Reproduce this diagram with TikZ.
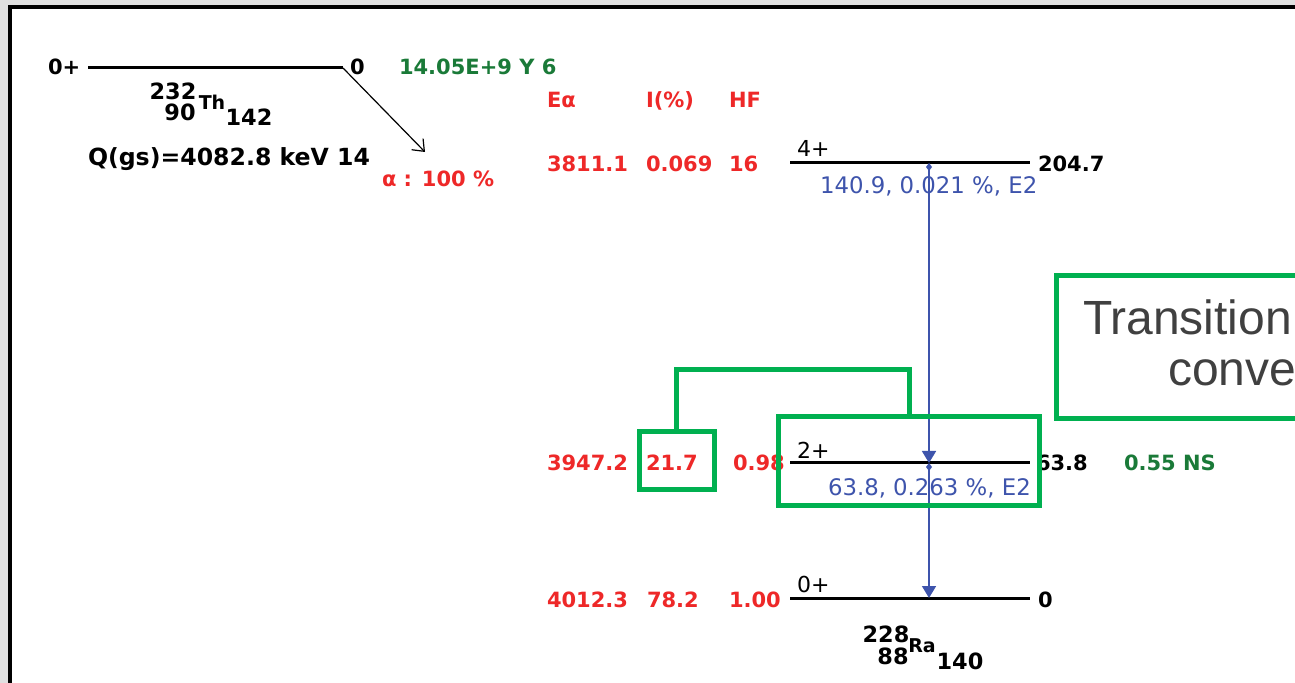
\documentclass[tikz,border=0pt]{standalone}
\usepackage{fontspec}
\setmainfont{DejaVu Sans}
\newfontfamily\calloutfont{Liberation Sans}
\usetikzlibrary{arrows.meta}

\definecolor{pagegray}{RGB}{224,224,224}
\definecolor{ered}{RGB}{238,40,40}
\definecolor{tgreen}{RGB}{26,122,56}
\definecolor{gblue}{RGB}{62,84,172}
\definecolor{hlgreen}{RGB}{0,176,80}
\definecolor{calltext}{RGB}{64,64,64}

\tikzset{
  every node/.style={inner sep=0pt, outer sep=0pt},
  boldtxt/.style={font=\fontsize{10.5}{12}\selectfont\bfseries},
  redtxt/.style={boldtxt, text=ered, anchor=base west},
  blktxt/.style={boldtxt, text=black, anchor=base west},
  grntxt/.style={boldtxt, text=tgreen, anchor=base west},
  spintxt/.style={font=\fontsize{11}{13}\selectfont, text=black, anchor=base west},
  gtxt/.style={font=\fontsize{11.4}{13}\selectfont, text=gblue, anchor=base west},
  nucnum/.style={font=\fontsize{11.2}{13}\selectfont\bfseries, text=black},
  nucsym/.style={font=\fontsize{9.5}{11}\selectfont\bfseries, text=black},
  level/.style={line width=1.5pt, black},
  gtrans/.style={draw=gblue, line width=0.75pt,
    {Diamond[length=4pt,width=3pt]}-{Triangle[length=6pt,width=7pt]}},
  decay/.style={draw=black, line width=0.6pt, -{Straight Barb[length=5pt,width=8pt]}},
  hlbox/.style={draw=hlgreen, line width=2.5pt, rectangle},
  hlline/.style={draw=hlgreen, line width=2.5pt},
  callout/.style={font=\calloutfont\fontsize{24}{28}\selectfont, text=calltext, anchor=base west}
}

\begin{document}
\begin{tikzpicture}[x=0.5pt, y=-0.5pt]
\useasboundingbox (0,0) rectangle (1295,683);
\clip (0,0) rectangle (1295,683);

% page and frame
\fill[pagegray] (0,0) rectangle (1295,683);
\draw[line width=2pt, fill=white] (10,7) rectangle (1400,800);

% ---- parent: 232Th ground state
\coordinate (thL) at (88,68);
\coordinate (thR) at (343,68);
\draw[level] (thL) -- (thR);
\node[blktxt] (th-spin) at (48,75) {0+};
\node[blktxt] (th-e) at (350,75) {0};
\node[grntxt] (th-half) at (399,75) {14.05E+9 Y 6};

\node[nucnum] (th-A) at (173,91) {232};
\node[nucnum] (th-Z) at (180,112.5) {90};
\node[nucsym] (th-sym) at (212,102.5) {Th};
\node[nucnum] (th-N) at (249,117.5) {142};

\node[blktxt, font=\fontsize{11.8}{13}\selectfont\bfseries] (th-q) at (88,166) {Q(gs)=4082.8 keV 14};

% alpha branch
\coordinate (alphaTip) at (425,152);
\draw[decay] (thR) -- (alphaTip);
\node[redtxt] (alpha-br) at (382,187) {α : 100 \%};

% column headings
\node[redtxt] (h-ea) at (547,108) {Eα};
\node[redtxt] (h-int) at (646,108) {I(\%)};
\node[redtxt] (h-hf) at (729,108) {HF};

% ---- daughter levels of 228Ra
\coordinate (l4L) at (790,163); \coordinate (l4R) at (1030,163);
\coordinate (l2L) at (790,463); \coordinate (l2R) at (1030,463);
\coordinate (l0L) at (790,598); \coordinate (l0R) at (1030,598);
\draw[level] (l4L) -- (l4R);
\draw[level] (l2L) -- (l2R);
\draw[level] (l0L) -- (l0R);

% 4+ level
\node[redtxt] (r4-e) at (547,172) {3811.1};
\node[redtxt] (r4-i) at (646,172) {0.069};
\node[redtxt] (r4-hf) at (729,172) {16};
\node[spintxt] (r4-spin) at (797,157) {4+};
\node[blktxt] (r4-lev) at (1038,172) {204.7};

% 2+ level
\node[redtxt] (r2-e) at (547,471) {3947.2};
\node[redtxt] (r2-i) at (646,471) {21.7};
\node[redtxt] (r2-hf) at (733,471) {0.98};
\node[spintxt] (r2-spin) at (797,459) {2+};
\node[blktxt] (r2-lev) at (1036,471) {63.8};
\node[grntxt] (r2-half) at (1124,471) {0.55 NS};

% 0+ level
\node[redtxt] (r0-e) at (547,607) {4012.3};
\node[redtxt] (r0-i) at (647,607) {78.2};
\node[redtxt] (r0-hf) at (729,607) {1.00};
\node[spintxt] (r0-spin) at (797,592) {0+};
\node[blktxt] (r0-lev) at (1038,607) {0};

% gamma transitions
\coordinate (g4) at (929,163);
\coordinate (g2) at (929,463);
\coordinate (g0) at (929,598);
\draw[gtrans] (g4) -- (g2);
\draw[gtrans] (g2) -- (g0);
\node[gtxt] (g1-lab) at (820,194) {140.9, 0.021 \%, E2};
\node[gtxt] (g2-lab) at (828,495) {63.8, 0.263 \%, E2};

% daughter label
\node[nucnum] (ra-A) at (886,634.5) {228};
\node[nucnum] (ra-Z) at (893,656) {88};
\node[nucsym] (ra-sym) at (922,646) {Ra};
\node[nucnum] (ra-N) at (960,661) {140};

% ---- highlight boxes
\node[hlbox, minimum width=37.5pt, minimum height=29pt] (hl-int) at (676.5,461) {};
\node[hlbox, minimum width=130.5pt, minimum height=44.5pt] (hl-gam) at (909,461) {};
\draw[hlline] (hl-int.north) -- ++(0,-62) -| (hl-gam.north);

\node[hlbox, anchor=north west, minimum width=200pt, minimum height=71.5pt] (hl-call) at (1056.5,275.5) {};
\node[callout] (call-1) at (1083,335) {Transition};
\node[callout] (call-2) at (1168,386) {conve};

\end{tikzpicture}
\end{document}
